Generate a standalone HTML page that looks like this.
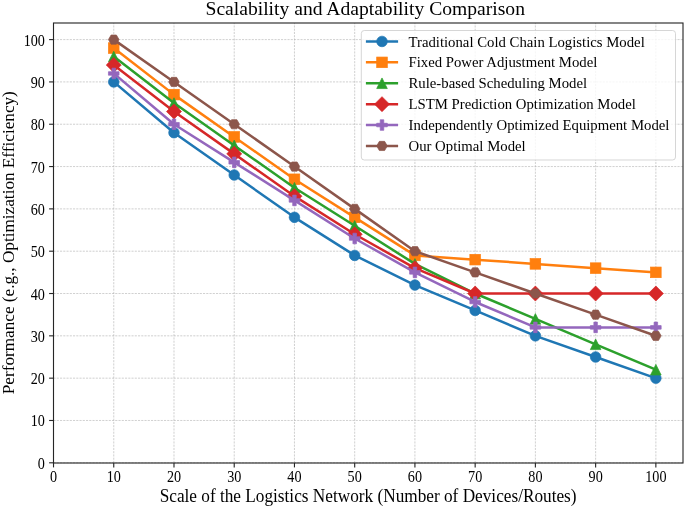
<!DOCTYPE html><html><head><meta charset="utf-8"><style>
html,body{margin:0;padding:0;background:#fff;width:685px;height:507px;overflow:hidden}
svg{display:block;font-family:"Liberation Serif",serif;will-change:transform}
</style></head><body>
<svg width="685" height="507" viewBox="0 0 685 507">
<rect width="685" height="507" fill="#fff"/>
<g stroke="#b0b0b0" stroke-opacity="0.85" stroke-width="0.7" stroke-dasharray="2.1 1.15"><line x1="53.52" y1="463.0" x2="53.52" y2="23.0"/><line x1="113.75" y1="463.0" x2="113.75" y2="23.0"/><line x1="173.99" y1="463.0" x2="173.99" y2="23.0"/><line x1="234.22" y1="463.0" x2="234.22" y2="23.0"/><line x1="294.46" y1="463.0" x2="294.46" y2="23.0"/><line x1="354.69" y1="463.0" x2="354.69" y2="23.0"/><line x1="414.92" y1="463.0" x2="414.92" y2="23.0"/><line x1="475.16" y1="463.0" x2="475.16" y2="23.0"/><line x1="535.39" y1="463.0" x2="535.39" y2="23.0"/><line x1="595.63" y1="463.0" x2="595.63" y2="23.0"/><line x1="655.86" y1="463.0" x2="655.86" y2="23.0"/><line x1="53.5" y1="462.80" x2="683.0" y2="462.80"/><line x1="53.5" y1="420.48" x2="683.0" y2="420.48"/><line x1="53.5" y1="378.16" x2="683.0" y2="378.16"/><line x1="53.5" y1="335.84" x2="683.0" y2="335.84"/><line x1="53.5" y1="293.52" x2="683.0" y2="293.52"/><line x1="53.5" y1="251.20" x2="683.0" y2="251.20"/><line x1="53.5" y1="208.88" x2="683.0" y2="208.88"/><line x1="53.5" y1="166.56" x2="683.0" y2="166.56"/><line x1="53.5" y1="124.24" x2="683.0" y2="124.24"/><line x1="53.5" y1="81.92" x2="683.0" y2="81.92"/><line x1="53.5" y1="39.60" x2="683.0" y2="39.60"/></g>
<polyline points="113.75,81.92 173.99,132.70 234.22,175.02 294.46,217.34 354.69,255.43 414.92,285.06 475.16,310.45 535.39,335.84 595.63,357.00 655.86,378.16" fill="none" stroke="#1f77b4" stroke-width="2.5" stroke-linejoin="round" stroke-linecap="square"/>
<circle cx="113.75" cy="81.92" r="5.30" fill="#1f77b4" stroke="#1f77b4" stroke-width="0.7" stroke-linejoin="miter"/><circle cx="173.99" cy="132.70" r="5.30" fill="#1f77b4" stroke="#1f77b4" stroke-width="0.7" stroke-linejoin="miter"/><circle cx="234.22" cy="175.02" r="5.30" fill="#1f77b4" stroke="#1f77b4" stroke-width="0.7" stroke-linejoin="miter"/><circle cx="294.46" cy="217.34" r="5.30" fill="#1f77b4" stroke="#1f77b4" stroke-width="0.7" stroke-linejoin="miter"/><circle cx="354.69" cy="255.43" r="5.30" fill="#1f77b4" stroke="#1f77b4" stroke-width="0.7" stroke-linejoin="miter"/><circle cx="414.92" cy="285.06" r="5.30" fill="#1f77b4" stroke="#1f77b4" stroke-width="0.7" stroke-linejoin="miter"/><circle cx="475.16" cy="310.45" r="5.30" fill="#1f77b4" stroke="#1f77b4" stroke-width="0.7" stroke-linejoin="miter"/><circle cx="535.39" cy="335.84" r="5.30" fill="#1f77b4" stroke="#1f77b4" stroke-width="0.7" stroke-linejoin="miter"/><circle cx="595.63" cy="357.00" r="5.30" fill="#1f77b4" stroke="#1f77b4" stroke-width="0.7" stroke-linejoin="miter"/><circle cx="655.86" cy="378.16" r="5.30" fill="#1f77b4" stroke="#1f77b4" stroke-width="0.7" stroke-linejoin="miter"/>
<polyline points="113.75,48.06 173.99,94.62 234.22,136.94 294.46,179.26 354.69,217.34 414.92,255.43 475.16,259.66 535.39,263.90 595.63,268.13 655.86,272.36" fill="none" stroke="#ff7f0e" stroke-width="2.5" stroke-linejoin="round" stroke-linecap="square"/>
<rect x="108.45" y="42.76" width="10.60" height="10.60" fill="#ff7f0e" stroke="#ff7f0e" stroke-width="0.7" stroke-linejoin="miter"/><rect x="168.69" y="89.32" width="10.60" height="10.60" fill="#ff7f0e" stroke="#ff7f0e" stroke-width="0.7" stroke-linejoin="miter"/><rect x="228.92" y="131.64" width="10.60" height="10.60" fill="#ff7f0e" stroke="#ff7f0e" stroke-width="0.7" stroke-linejoin="miter"/><rect x="289.16" y="173.96" width="10.60" height="10.60" fill="#ff7f0e" stroke="#ff7f0e" stroke-width="0.7" stroke-linejoin="miter"/><rect x="349.39" y="212.04" width="10.60" height="10.60" fill="#ff7f0e" stroke="#ff7f0e" stroke-width="0.7" stroke-linejoin="miter"/><rect x="409.62" y="250.13" width="10.60" height="10.60" fill="#ff7f0e" stroke="#ff7f0e" stroke-width="0.7" stroke-linejoin="miter"/><rect x="469.86" y="254.36" width="10.60" height="10.60" fill="#ff7f0e" stroke="#ff7f0e" stroke-width="0.7" stroke-linejoin="miter"/><rect x="530.09" y="258.60" width="10.60" height="10.60" fill="#ff7f0e" stroke="#ff7f0e" stroke-width="0.7" stroke-linejoin="miter"/><rect x="590.33" y="262.83" width="10.60" height="10.60" fill="#ff7f0e" stroke="#ff7f0e" stroke-width="0.7" stroke-linejoin="miter"/><rect x="650.56" y="267.06" width="10.60" height="10.60" fill="#ff7f0e" stroke="#ff7f0e" stroke-width="0.7" stroke-linejoin="miter"/>
<polyline points="113.75,56.53 173.99,103.08 234.22,145.40 294.46,187.72 354.69,225.81 414.92,263.90 475.16,293.52 535.39,318.91 595.63,344.30 655.86,369.70" fill="none" stroke="#2ca02c" stroke-width="2.5" stroke-linejoin="round" stroke-linecap="square"/>
<polygon points="113.75,51.23 108.45,61.83 119.05,61.83" fill="#2ca02c" stroke="#2ca02c" stroke-width="0.7" stroke-linejoin="miter"/><polygon points="173.99,97.78 168.69,108.38 179.29,108.38" fill="#2ca02c" stroke="#2ca02c" stroke-width="0.7" stroke-linejoin="miter"/><polygon points="234.22,140.10 228.92,150.70 239.52,150.70" fill="#2ca02c" stroke="#2ca02c" stroke-width="0.7" stroke-linejoin="miter"/><polygon points="294.46,182.42 289.16,193.02 299.76,193.02" fill="#2ca02c" stroke="#2ca02c" stroke-width="0.7" stroke-linejoin="miter"/><polygon points="354.69,220.51 349.39,231.11 359.99,231.11" fill="#2ca02c" stroke="#2ca02c" stroke-width="0.7" stroke-linejoin="miter"/><polygon points="414.92,258.60 409.62,269.20 420.22,269.20" fill="#2ca02c" stroke="#2ca02c" stroke-width="0.7" stroke-linejoin="miter"/><polygon points="475.16,288.22 469.86,298.82 480.46,298.82" fill="#2ca02c" stroke="#2ca02c" stroke-width="0.7" stroke-linejoin="miter"/><polygon points="535.39,313.61 530.09,324.21 540.69,324.21" fill="#2ca02c" stroke="#2ca02c" stroke-width="0.7" stroke-linejoin="miter"/><polygon points="595.63,339.00 590.33,349.60 600.93,349.60" fill="#2ca02c" stroke="#2ca02c" stroke-width="0.7" stroke-linejoin="miter"/><polygon points="655.86,364.40 650.56,375.00 661.16,375.00" fill="#2ca02c" stroke="#2ca02c" stroke-width="0.7" stroke-linejoin="miter"/>
<polyline points="113.75,64.99 173.99,111.54 234.22,153.86 294.46,196.18 354.69,234.27 414.92,268.13 475.16,293.52 535.39,293.52 595.63,293.52 655.86,293.52" fill="none" stroke="#d62728" stroke-width="2.5" stroke-linejoin="round" stroke-linecap="square"/>
<polygon points="113.75,57.50 121.25,64.99 113.75,72.49 106.26,64.99" fill="#d62728" stroke="#d62728" stroke-width="0.7" stroke-linejoin="miter"/><polygon points="173.99,104.05 181.48,111.54 173.99,119.04 166.49,111.54" fill="#d62728" stroke="#d62728" stroke-width="0.7" stroke-linejoin="miter"/><polygon points="234.22,146.37 241.72,153.86 234.22,161.36 226.73,153.86" fill="#d62728" stroke="#d62728" stroke-width="0.7" stroke-linejoin="miter"/><polygon points="294.46,188.69 301.95,196.18 294.46,203.68 286.96,196.18" fill="#d62728" stroke="#d62728" stroke-width="0.7" stroke-linejoin="miter"/><polygon points="354.69,226.78 362.19,234.27 354.69,241.77 347.19,234.27" fill="#d62728" stroke="#d62728" stroke-width="0.7" stroke-linejoin="miter"/><polygon points="414.92,260.63 422.42,268.13 414.92,275.62 407.43,268.13" fill="#d62728" stroke="#d62728" stroke-width="0.7" stroke-linejoin="miter"/><polygon points="475.16,286.02 482.65,293.52 475.16,301.02 467.66,293.52" fill="#d62728" stroke="#d62728" stroke-width="0.7" stroke-linejoin="miter"/><polygon points="535.39,286.02 542.89,293.52 535.39,301.02 527.90,293.52" fill="#d62728" stroke="#d62728" stroke-width="0.7" stroke-linejoin="miter"/><polygon points="595.63,286.02 603.12,293.52 595.63,301.02 588.13,293.52" fill="#d62728" stroke="#d62728" stroke-width="0.7" stroke-linejoin="miter"/><polygon points="655.86,286.02 663.36,293.52 655.86,301.02 648.36,293.52" fill="#d62728" stroke="#d62728" stroke-width="0.7" stroke-linejoin="miter"/>
<polyline points="113.75,73.46 173.99,124.24 234.22,162.33 294.46,200.42 354.69,238.50 414.92,272.36 475.16,301.98 535.39,327.38 595.63,327.38 655.86,327.38" fill="none" stroke="#9467bd" stroke-width="2.5" stroke-linejoin="round" stroke-linecap="square"/>
<polygon points="111.99,68.16 115.52,68.16 115.52,71.69 119.05,71.69 119.05,75.22 115.52,75.22 115.52,78.76 111.99,78.76 111.99,75.22 108.45,75.22 108.45,71.69 111.99,71.69" fill="#9467bd" stroke="#9467bd" stroke-width="0.7" stroke-linejoin="miter"/><polygon points="172.22,118.94 175.75,118.94 175.75,122.47 179.29,122.47 179.29,126.01 175.75,126.01 175.75,129.54 172.22,129.54 172.22,126.01 168.69,126.01 168.69,122.47 172.22,122.47" fill="#9467bd" stroke="#9467bd" stroke-width="0.7" stroke-linejoin="miter"/><polygon points="232.46,157.03 235.99,157.03 235.99,160.56 239.52,160.56 239.52,164.09 235.99,164.09 235.99,167.63 232.46,167.63 232.46,164.09 228.92,164.09 228.92,160.56 232.46,160.56" fill="#9467bd" stroke="#9467bd" stroke-width="0.7" stroke-linejoin="miter"/><polygon points="292.69,195.12 296.22,195.12 296.22,198.65 299.76,198.65 299.76,202.18 296.22,202.18 296.22,205.72 292.69,205.72 292.69,202.18 289.16,202.18 289.16,198.65 292.69,198.65" fill="#9467bd" stroke="#9467bd" stroke-width="0.7" stroke-linejoin="miter"/><polygon points="352.92,233.20 356.46,233.20 356.46,236.74 359.99,236.74 359.99,240.27 356.46,240.27 356.46,243.80 352.92,243.80 352.92,240.27 349.39,240.27 349.39,236.74 352.92,236.74" fill="#9467bd" stroke="#9467bd" stroke-width="0.7" stroke-linejoin="miter"/><polygon points="413.16,267.06 416.69,267.06 416.69,270.59 420.22,270.59 420.22,274.13 416.69,274.13 416.69,277.66 413.16,277.66 413.16,274.13 409.62,274.13 409.62,270.59 413.16,270.59" fill="#9467bd" stroke="#9467bd" stroke-width="0.7" stroke-linejoin="miter"/><polygon points="473.39,296.68 476.92,296.68 476.92,300.22 480.46,300.22 480.46,303.75 476.92,303.75 476.92,307.28 473.39,307.28 473.39,303.75 469.86,303.75 469.86,300.22 473.39,300.22" fill="#9467bd" stroke="#9467bd" stroke-width="0.7" stroke-linejoin="miter"/><polygon points="533.63,322.08 537.16,322.08 537.16,325.61 540.69,325.61 540.69,329.14 537.16,329.14 537.16,332.68 533.63,332.68 533.63,329.14 530.09,329.14 530.09,325.61 533.63,325.61" fill="#9467bd" stroke="#9467bd" stroke-width="0.7" stroke-linejoin="miter"/><polygon points="593.86,322.08 597.39,322.08 597.39,325.61 600.93,325.61 600.93,329.14 597.39,329.14 597.39,332.68 593.86,332.68 593.86,329.14 590.33,329.14 590.33,325.61 593.86,325.61" fill="#9467bd" stroke="#9467bd" stroke-width="0.7" stroke-linejoin="miter"/><polygon points="654.09,322.08 657.63,322.08 657.63,325.61 661.16,325.61 661.16,329.14 657.63,329.14 657.63,332.68 654.09,332.68 654.09,329.14 650.56,329.14 650.56,325.61 654.09,325.61" fill="#9467bd" stroke="#9467bd" stroke-width="0.7" stroke-linejoin="miter"/>
<polyline points="113.75,39.60 173.99,81.92 234.22,124.24 294.46,166.56 354.69,208.88 414.92,251.20 475.16,272.36 535.39,293.52 595.63,314.68 655.86,335.84" fill="none" stroke="#8c564b" stroke-width="2.5" stroke-linejoin="round" stroke-linecap="square"/>
<polygon points="119.05,39.60 116.40,35.01 111.10,35.01 108.45,39.60 111.10,44.19 116.40,44.19" fill="#8c564b" stroke="#8c564b" stroke-width="0.7" stroke-linejoin="miter"/><polygon points="179.29,81.92 176.64,77.33 171.34,77.33 168.69,81.92 171.34,86.51 176.64,86.51" fill="#8c564b" stroke="#8c564b" stroke-width="0.7" stroke-linejoin="miter"/><polygon points="239.52,124.24 236.87,119.65 231.57,119.65 228.92,124.24 231.57,128.83 236.87,128.83" fill="#8c564b" stroke="#8c564b" stroke-width="0.7" stroke-linejoin="miter"/><polygon points="299.76,166.56 297.11,161.97 291.81,161.97 289.16,166.56 291.81,171.15 297.11,171.15" fill="#8c564b" stroke="#8c564b" stroke-width="0.7" stroke-linejoin="miter"/><polygon points="359.99,208.88 357.34,204.29 352.04,204.29 349.39,208.88 352.04,213.47 357.34,213.47" fill="#8c564b" stroke="#8c564b" stroke-width="0.7" stroke-linejoin="miter"/><polygon points="420.22,251.20 417.57,246.61 412.27,246.61 409.62,251.20 412.27,255.79 417.57,255.79" fill="#8c564b" stroke="#8c564b" stroke-width="0.7" stroke-linejoin="miter"/><polygon points="480.46,272.36 477.81,267.77 472.51,267.77 469.86,272.36 472.51,276.95 477.81,276.95" fill="#8c564b" stroke="#8c564b" stroke-width="0.7" stroke-linejoin="miter"/><polygon points="540.69,293.52 538.04,288.93 532.74,288.93 530.09,293.52 532.74,298.11 538.04,298.11" fill="#8c564b" stroke="#8c564b" stroke-width="0.7" stroke-linejoin="miter"/><polygon points="600.93,314.68 598.28,310.09 592.98,310.09 590.33,314.68 592.98,319.27 598.28,319.27" fill="#8c564b" stroke="#8c564b" stroke-width="0.7" stroke-linejoin="miter"/><polygon points="661.16,335.84 658.51,331.25 653.21,331.25 650.56,335.84 653.21,340.43 658.51,340.43" fill="#8c564b" stroke="#8c564b" stroke-width="0.7" stroke-linejoin="miter"/>
<rect x="53.5" y="23.0" width="629.50" height="440.00" fill="none" stroke="#262626" stroke-width="1.12"/>
<g stroke="#262626" stroke-width="1.12"><line x1="53.52" y1="463.0" x2="53.52" y2="467.40"/><line x1="49.10" y1="462.80" x2="53.5" y2="462.80"/><line x1="113.75" y1="463.0" x2="113.75" y2="467.40"/><line x1="49.10" y1="420.48" x2="53.5" y2="420.48"/><line x1="173.99" y1="463.0" x2="173.99" y2="467.40"/><line x1="49.10" y1="378.16" x2="53.5" y2="378.16"/><line x1="234.22" y1="463.0" x2="234.22" y2="467.40"/><line x1="49.10" y1="335.84" x2="53.5" y2="335.84"/><line x1="294.46" y1="463.0" x2="294.46" y2="467.40"/><line x1="49.10" y1="293.52" x2="53.5" y2="293.52"/><line x1="354.69" y1="463.0" x2="354.69" y2="467.40"/><line x1="49.10" y1="251.20" x2="53.5" y2="251.20"/><line x1="414.92" y1="463.0" x2="414.92" y2="467.40"/><line x1="49.10" y1="208.88" x2="53.5" y2="208.88"/><line x1="475.16" y1="463.0" x2="475.16" y2="467.40"/><line x1="49.10" y1="166.56" x2="53.5" y2="166.56"/><line x1="535.39" y1="463.0" x2="535.39" y2="467.40"/><line x1="49.10" y1="124.24" x2="53.5" y2="124.24"/><line x1="595.63" y1="463.0" x2="595.63" y2="467.40"/><line x1="49.10" y1="81.92" x2="53.5" y2="81.92"/><line x1="655.86" y1="463.0" x2="655.86" y2="467.40"/><line x1="49.10" y1="39.60" x2="53.5" y2="39.60"/></g>
<g font-size="14.7" fill="#000"><text transform="translate(53.52,482.0) scale(0.965,1.07)" text-anchor="middle">0</text><text transform="translate(44.9,468.80) scale(0.965,1.07)" text-anchor="end">0</text><text transform="translate(113.75,482.0) scale(0.965,1.07)" text-anchor="middle">10</text><text transform="translate(44.9,426.48) scale(0.965,1.07)" text-anchor="end">10</text><text transform="translate(173.99,482.0) scale(0.965,1.07)" text-anchor="middle">20</text><text transform="translate(44.9,384.16) scale(0.965,1.07)" text-anchor="end">20</text><text transform="translate(234.22,482.0) scale(0.965,1.07)" text-anchor="middle">30</text><text transform="translate(44.9,341.84) scale(0.965,1.07)" text-anchor="end">30</text><text transform="translate(294.46,482.0) scale(0.965,1.07)" text-anchor="middle">40</text><text transform="translate(44.9,299.52) scale(0.965,1.07)" text-anchor="end">40</text><text transform="translate(354.69,482.0) scale(0.965,1.07)" text-anchor="middle">50</text><text transform="translate(44.9,257.20) scale(0.965,1.07)" text-anchor="end">50</text><text transform="translate(414.92,482.0) scale(0.965,1.07)" text-anchor="middle">60</text><text transform="translate(44.9,214.88) scale(0.965,1.07)" text-anchor="end">60</text><text transform="translate(475.16,482.0) scale(0.965,1.07)" text-anchor="middle">70</text><text transform="translate(44.9,172.56) scale(0.965,1.07)" text-anchor="end">70</text><text transform="translate(535.39,482.0) scale(0.965,1.07)" text-anchor="middle">80</text><text transform="translate(44.9,130.24) scale(0.965,1.07)" text-anchor="end">80</text><text transform="translate(595.63,482.0) scale(0.965,1.07)" text-anchor="middle">90</text><text transform="translate(44.9,87.92) scale(0.965,1.07)" text-anchor="end">90</text><text transform="translate(655.86,482.0) scale(0.965,1.07)" text-anchor="middle">100</text><text transform="translate(44.9,45.60) scale(0.965,1.07)" text-anchor="end">100</text></g>
<text transform="translate(368.1,501.7) scale(1,1.05)" text-anchor="middle" font-size="17.25">Scale of the Logistics Network (Number of Devices/Routes)</text>
<text transform="translate(14.1,242.7) rotate(-90) scale(1,1.03)" text-anchor="middle" font-size="17.2">Performance (e.g., Optimization Efficiency)</text>
<text transform="translate(365.2,15.1) scale(1,1.0)" text-anchor="middle" font-size="19.6">Scalability and Adaptability Comparison</text>
<rect x="361.3" y="30.5" width="314.20" height="129.50" rx="3" fill="#fff" fill-opacity="0.8" stroke="#cccccc" stroke-opacity="0.8" stroke-width="1"/>
<line x1="365.9" y1="41.45" x2="398.1" y2="41.45" stroke="#1f77b4" stroke-width="2.5" stroke-linecap="butt"/>
<circle cx="382.00" cy="41.45" r="5.30" fill="#1f77b4" stroke="#1f77b4" stroke-width="0.7" stroke-linejoin="miter"/>
<text transform="translate(408.5,46.55) scale(1,1.04)" font-size="14.76">Traditional Cold Chain Logistics Model</text>
<line x1="365.9" y1="62.35" x2="398.1" y2="62.35" stroke="#ff7f0e" stroke-width="2.5" stroke-linecap="butt"/>
<rect x="376.70" y="57.05" width="10.60" height="10.60" fill="#ff7f0e" stroke="#ff7f0e" stroke-width="0.7" stroke-linejoin="miter"/>
<text transform="translate(408.5,67.45) scale(1,1.04)" font-size="14.76">Fixed Power Adjustment Model</text>
<line x1="365.9" y1="83.25" x2="398.1" y2="83.25" stroke="#2ca02c" stroke-width="2.5" stroke-linecap="butt"/>
<polygon points="382.00,77.95 376.70,88.55 387.30,88.55" fill="#2ca02c" stroke="#2ca02c" stroke-width="0.7" stroke-linejoin="miter"/>
<text transform="translate(408.5,88.35) scale(1,1.04)" font-size="14.76">Rule-based Scheduling Model</text>
<line x1="365.9" y1="104.15" x2="398.1" y2="104.15" stroke="#d62728" stroke-width="2.5" stroke-linecap="butt"/>
<polygon points="382.00,96.65 389.50,104.15 382.00,111.65 374.50,104.15" fill="#d62728" stroke="#d62728" stroke-width="0.7" stroke-linejoin="miter"/>
<text transform="translate(408.5,109.25) scale(1,1.04)" font-size="14.76">LSTM Prediction Optimization Model</text>
<line x1="365.9" y1="125.05" x2="398.1" y2="125.05" stroke="#9467bd" stroke-width="2.5" stroke-linecap="butt"/>
<polygon points="380.23,119.75 383.77,119.75 383.77,123.28 387.30,123.28 387.30,126.82 383.77,126.82 383.77,130.35 380.23,130.35 380.23,126.82 376.70,126.82 376.70,123.28 380.23,123.28" fill="#9467bd" stroke="#9467bd" stroke-width="0.7" stroke-linejoin="miter"/>
<text transform="translate(408.5,130.15) scale(1,1.04)" font-size="14.76">Independently Optimized Equipment Model</text>
<line x1="365.9" y1="145.95" x2="398.1" y2="145.95" stroke="#8c564b" stroke-width="2.5" stroke-linecap="butt"/>
<polygon points="387.30,145.95 384.65,141.36 379.35,141.36 376.70,145.95 379.35,150.54 384.65,150.54" fill="#8c564b" stroke="#8c564b" stroke-width="0.7" stroke-linejoin="miter"/>
<text transform="translate(408.5,151.05) scale(1,1.04)" font-size="14.76">Our Optimal Model</text>
</svg></body></html>
